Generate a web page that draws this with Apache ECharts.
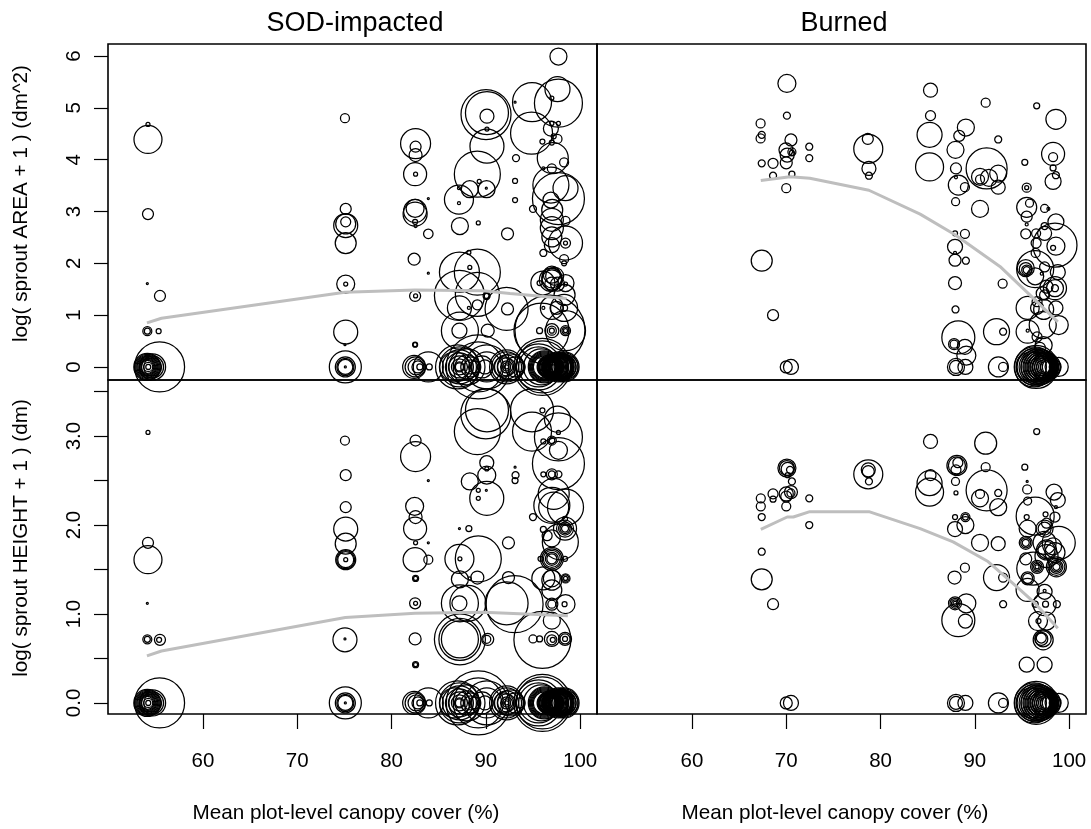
<!DOCTYPE html>
<html><head><meta charset="utf-8">
<style>html,body{margin:0;padding:0;background:#fff}#c{width:1091px;height:829px}</style>
<script src="https://cdn.jsdelivr.net/npm/echarts@6/dist/echarts.min.js"></script>
</head><body><div id="c"></div>
<script>
// rows are [canopy cover %, log response, bubble value]
const sodZero = [
[54.1,0,27],[54.1,0,25],[54.1,0,23],[54.1,0,21],[54.1,0,19],[54.1,0,17],[54.1,0,15],[54.1,0,13],[54.2,0,9],[54.2,0,5],[54.66,0,26],[54.66,0,22],[54.66,0,18],[55.4,0,50],
[75.1,0,32],[75.1,0,20],[75.1,0,17],[75.1,0,15],[75.1,0,2],
[82.4,0,23],[82.5,0,20],[82.6,0,16],[82.8,0,12],[83,0,6],[84,0,6],[83.9,0,30],
[86.7,0,30],[87,0,44],[87.2,0,40],[87.2,0,34],[87.2,0,28],[87.2,0,22],[87.2,0,16],[87.2,0,10],[87.2,0,8],[88,0,36],[88,0,24],[88.4,0,20],[88.4,0,14],[88.8,0,12],[89.2,0,64],[89.2,0,50],[89.6,0,22],[89.9,0,14],[90.1,0,44],[90.1,0,30],
[91.9,0,20],[92.2,0,34],[92.2,0,30],[92.2,0,24],[92.2,0,18],[92.2,0,12],[92.2,0,8],[92.2,0,4],[92.6,0,26],[93.1,0,20],[93.6,0,10],
[95.6,0,46],[95.6,0,40],[95.9,0,36],[96,0,57],[96,0,52],[96.2,0,32],[96.2,0,30],[96.2,0,28],[96.2,0,26],[96.2,0,24],[96.2,0,22],[96.5,0,20],[96.5,0,18],[96.5,0,16],
[96.8,0,24],[96.8,0,22],[96.8,0,20],[96.8,0,18],[96.8,0,16],[96.8,0,14],[97.1,0,22],[97.1,0,20],[97.1,0,18],[97.1,0,16],[97.1,0,14],[97.1,0,12],
[97.4,0,26],[97.4,0,24],[97.4,0,22],[97.4,0,20],[97.4,0,18],[97.4,0,16],[97.4,0,14],[97.7,0,30],[97.7,0,28],[97.7,0,26],[97.7,0,24],[97.7,0,20],[97.7,0,18],
[98,0,26],[98,0,24],[98,0,22],[98,0,20],[98.3,0,30],[98.3,0,28],[98.3,0,24],[98.5,0,24],[98.5,0,20]
];
const sodArea = [
[54.17,4.39,28],[54.17,4.68,4],[54.17,2.95,11],[54.1,1.61,2],[55.44,1.37,11],[54.1,0.69,9],[54.1,0.69,6],[55.3,0.69,5],
[75.06,4.8,9],[75.14,3.05,11],[75.14,2.8,10],[75.14,2.73,24],[75.14,2.76,20],[75.14,2.39,21],[75.14,1.6,18],[75.14,1.6,4],[75.14,0.675,24],[75.06,0.43,2],
[82.55,4.31,30],[82.55,4.25,11],[82.55,4.09,13],[82.5,3.72,23],[82.55,3.72,4],[82.5,3.01,23],[82.5,3.06,18],[82.5,2.95,24],[82.5,2.8,5],[82.55,2.72,3],
[83.9,2.57,9.5],[83.9,3.25,2],[83.9,1.81,2],[82.4,2.08,12],[82.5,1.37,11],[82.55,1.37,4],[82.5,0.43,5],[82.5,0.43,4],
[87.15,3.23,29],[87.15,3.16,3],[89.1,3.72,46],[88.3,3.43,17],[90.08,3.43,17],[90.05,3.45,2],[89.3,3.58,4],[87.15,3.45,3],[87.25,2.72,17],[89.2,2.78,4],
[90.02,4.87,50],[90.12,4.9,43],[90.12,4.84,14],[90.12,4.59,4],[90.12,4.26,34],[88.2,2.21,4],[88.3,1.92,4],[87.2,1.83,40],[89.1,1.83,46],[87.2,1.38,50],[89.1,1.4,44],[89.1,1.2,10],[90.08,1.37,7],[90.08,1.37,5],
[87.2,1.14,24],[88.2,1.14,3],[87.25,0.7,37],[87.2,0.7,15],[90.2,0.7,13],[92.2,1.12,43],[92.3,1.12,12],[92.3,2.57,12],[93.2,4.03,7],[93.1,5.11,2],[93.1,3.59,5],[93.1,3.22,5],
[94.9,5.11,39],[94.85,4.51,42],[97.7,5.99,17],[97.6,5.36,25],[97.7,5.09,48],[97,5.19,4],[97,4.7,4],[97.7,4.7,4],[96.9,4.6,15],[96,4.35,5],[97,4.33,5],[97.6,4.4,9],[97.2,4.45,5],
[97.1,4.03,31],[97,3.83,9],[98.3,3.95,9],[96.1,3.83,3],[96.9,3.51,36],[97.7,3.25,52],[98.45,3.45,25],[95,3.05,7],[96.9,3.22,16],[97.04,3.03,21],[97,2.84,23],[97,2.68,23],[98.45,2.82,9],
[98.45,2.39,34],[98.45,2.39,10],[98.45,2.39,4],[97,2.51,20],[97,2.35,15],[96.1,2.2,7],[98.3,2.08,9],[98.3,2,5],
[97,1.78,17],[97,1.72,20],[96.9,1.68,23],[96.05,1.62,24],[95.7,1.62,5],[97,1.68,20],[97,1.6,14],[97.3,1.75,18],[98.45,1.62,17],[98.45,1.6,4],[98.35,1.39,21],[98.3,1.14,27],[97,1.14,23],[96.1,1.14,3],[97.5,1.14,13],[98.3,1.14,7],[97.6,1.6,14],
[96.8,0.71,70],[95.9,0.7,55],[98.45,0.7,40],[98.45,0.7,10],[98.45,0.7,7],[98.45,0.7,4],[97,0.7,14],[97,0.7,9],[97,0.7,5],[95.7,0.7,6]
];
const sodHeight = [
[54.17,3.04,4],[54.17,1.8,11],[54.17,1.61,28],[54.1,1.12,2],[54.1,0.715,9],[54.1,0.715,6],[55.44,0.71,11],[55.35,0.71,5],
[75.06,2.95,9],[75.14,2.56,11],[75.14,2.2,11],[75.14,1.955,24],[75.14,1.79,21],[75.14,1.61,20],[75.14,1.61,18],[75.14,1.61,16],[75.14,1.61,4],[75.06,0.71,24],[75.06,0.72,2],
[82.55,2.95,11],[82.55,2.77,30],[82.45,2.21,18],[82.55,2.09,13],[82.5,1.96,23],[82.55,1.8,4],[82.5,1.61,24],[82.55,1.4,6],[82.55,1.4,4],[82.5,1.12,11],[82.55,1.12,4],[82.5,0.72,12],[82.55,0.43,6],[82.55,0.43,4],
[83.9,2.5,2],[83.9,1.8,2],[83.9,1.61,9],
[89.1,3.05,46],[90,3.25,50],[90.12,3.29,43],[94.9,3.29,43],[94.9,3.05,39],[96,3.29,5],[97.6,3.19,26],[97.7,2.99,48],[97.7,3.04,4],[97,2.95,9],[97,2.95,6],[96.1,2.94,5],[97.7,2.84,18],[97.7,2.69,52],
[90.1,2.7,14],[90.1,2.56,18],[90.1,2.63,4],[88.3,2.49,17],[90.1,2.3,34],[89.2,2.39,4],[89.2,2.3,4],[90.05,2.39,2],[93.1,2.65,2],[93.15,2.56,7],[93.1,2.5,6],
[87.2,1.96,2],[88.2,1.96,6],[92.4,1.8,12],[89.2,1.62,46],[87.2,1.62,29],[87.25,1.62,4],[87.25,1.39,17],[89.1,1.41,13],[88.3,1.4,3],[92.4,1.41,12],
[92.2,1.12,43],[93.05,1.11,57],[87.25,1.12,37],[88.1,1.12,36],[87.2,1.12,15],[87.25,0.715,51],[87.25,0.715,42],[87.25,0.715,37],[90.2,0.715,12],[90.1,0.715,8],
[96,0.71,57],[95,0.72,8],[95.7,0.72,6],[97,0.72,15],[97,0.71,10],[97.1,0.71,5],[98.4,0.72,13],[98.4,0.72,10],[98.4,0.72,5],[98.45,1.11,19],[98.35,1.11,5],[97,1.11,12],[97,1.11,8],[97,0.925,17],
[96.1,1.4,23],[97,1.4,17],[97,1.38,20],[98.45,1.4,9],[98.45,1.4,7],[98.45,1.4,4],[97,1.27,20],[95,2.09,7],[97,2.22,36],[98.45,2.2,36],[97.2,2.2,30],[97.2,2.35,31],
[98.4,1.96,23],[98.4,1.96,17],[98.4,1.96,13],[98.4,1.96,10],[98.4,1.96,7],[98.4,2.07,5],[97.9,1.81,36],[96.1,1.95,6],[96.5,1.88,10],[97,1.85,17],
[97,1.62,23],[97,1.62,20],[97,1.62,17],[97,1.62,13],[97,1.62,10],[95.8,1.62,5],[98.4,1.62,5],[97,2.57,11],[97,2.57,7],[96.1,2.57,5],[97.7,2.57,7]
];
const burnedZero = [
[70,0,12],[70.5,0,15],[88,0,17],[88,0,13],[89,0,15],[92.5,0,20],[93,0,9],
[96,0,30],[96.3,0,40],[96.3,0,36],[96.5,0,43],[96.5,0,38],[96.5,0,34],[96.5,0,30],[96.8,0,36],[96.8,0,32],[96.8,0,28],[96.8,0,24],[97,0,34],[97,0,30],[97,0,26],[97,0,22],[97,0,18],
[97.3,0,30],[97.3,0,26],[97.3,0,22],[97.3,0,18],[97.3,0,14],[97.6,0,28],[97.6,0,24],[97.6,0,20],[97.6,0,16],[97.6,0,12],[98,0,20],[98,0,16],[98.3,0,16],[98.9,0,19]
];
const burnedArea = [
[70.07,5.47,18],[70.07,4.85,7],[67.28,4.7,9],[67.4,4.48,7],[67.28,4.41,9],[70.5,4.38,12],[72.44,4.25,7],[72.44,4.03,7],[69.97,4.19,14],[70.1,4.09,14],[70,3.94,12],[70.6,4.15,8],[70.6,4.13,5],
[67.4,3.93,7],[68.6,3.93,10],[68.6,3.69,7],[70.6,3.72,6],[70,3.45,9],[78.7,4.21,29],[78.65,4.4,11],[78.77,3.83,14],[78.77,3.69,7],[67.4,2.05,21],[68.6,1,11],
[85.3,5.34,14],[85.3,4.85,10],[85.2,4.48,25],[85.2,3.86,28],[91.15,5.1,9],[96.56,5.04,6],[98.6,4.78,20],[89.05,4.62,17],[88.35,4.46,11],[87.95,4.19,17],[92.48,4.39,7],[98.3,4.11,23],[98.3,4.05,9],
[88,3.83,11],[88.25,3.51,20],[88.95,3.47,9],[87.96,3.19,8],[88,3.66,3],[91.25,3.83,41],[90.55,3.67,17],[90.55,3.62,9],[92.48,3.73,17],[92.48,3.47,14],[91.5,3.65,17],[90.55,3.05,17],
[95.3,3.95,6],[95.5,3.46,9],[95.5,3.46,4],[98.3,3.84,6],[98.6,3.7,7],[98.3,3.58,16],[95.5,3.08,20],[95.8,3.16,8],[95.5,2.9,11],[95.5,2.75,3],[97.4,3.06,8],[97.8,3.05,3],[98.6,2.8,16],[97.4,2.72,7],
[87.9,2.58,5],[88.95,2.57,9],[87.9,2.32,15],[87.9,2.06,12],[87.9,2.2,3],[89.05,2.05,7],[87.9,1.62,13],[92.95,1.61,9],[87.95,1.11,7],[88.25,0.57,33],[87.8,0.44,11],[87.8,0.44,8],[88.95,0.39,15],[89.1,0.22,19],[92.3,0.68,26],[93,0.68,7],
[98.5,2.35,44],[98.3,2.3,5],[98.6,2.33,18],[97.4,2.58,14],[96.5,2.58,9],[95.4,2.57,10],[96.5,2.39,10],[96.45,2.2,9],[96.4,1.89,37],[95.4,1.91,17],[95.4,1.89,13],[95.5,1.87,10],[95.5,1.87,7],[96.4,1.75,17],[97.4,1.93,10],[97.1,1.8,3],
[98.8,1.83,15],[98.5,1.52,23],[98.5,1.52,17],[98.5,1.52,7],[97.6,1.55,13],[97.4,1.39,10],[97.2,1.42,13],[96.6,1.26,10],[95.6,1.14,23],[98.6,1.14,14],[96.6,1.14,13],[97.3,1.11,20],
[95.6,0.68,23],[95.6,0.7,3],[97.2,0.81,27],[98.9,0.81,19],[96.6,0.58,10],[97.3,0.42,17],[96.9,0.37,11]
];
const burnedHeight = [
[70.07,2.64,18],[70.07,2.64,15],[70.15,2.63,13],[70.4,2.62,7],[70.15,2.56,5],[70.6,2.49,7],[70.5,2.37,13],[70,2.35,14],[68.6,2.35,10],[68.6,2.29,6],[70,2.21,9],[70,2.32,11],[70.5,2.36,8],[67.3,2.3,9],[67.3,2.21,9],[67.4,2.09,7],[72.44,2.3,7],[72.44,2,7],
[78.7,2.57,29],[78.7,2.62,14],[78.7,2.6,12],[78.77,2.49,7],[67.4,1.7,7],[67.4,1.39,21],[68.6,1.11,11],
[85.3,2.94,14],[85.3,2.56,11],[85.2,2.47,25],[85.2,2.37,28],[91.15,2.92,22],[96.56,3.05,6],[88.1,2.67,20],[88.1,2.67,17],[88.2,2.7,10],[88,2.62,10],[87.95,2.49,8],[91.15,2.65,9],[95.3,2.65,6],[95.55,2.49,2],[95.55,2.4,9],
[91.25,2.39,41],[90.55,2.35,9],[90.55,2.3,17],[92.48,2.36,7],[92.48,2.2,17],[88,2.36,4],[98.4,2.37,16],[98.8,2.28,15],[95.6,2.27,8],[98.6,2.2,3],[97.5,2.12,5],[96.4,2.1,38],
[87.9,2.09,5],[89,2.09,9],[89,2.09,6],[87.9,1.955,15],[89,2,17],[95.6,1.96,17],[98.5,2.09,10],[95.5,2.09,5],[97.4,1.96,17],[97.4,1.96,13],[97.6,2.02,10],
[98.9,1.8,33],[95.4,1.8,13],[95.4,1.8,10],[95.4,1.8,7],[97.6,1.72,20],[97.6,1.72,17],[98.3,1.76,17],[98.5,1.69,20],[97.4,1.8,23],[97.6,1.65,23],[90.55,1.8,17],[92.48,1.79,14],
[88.95,1.52,9],[87.85,1.41,13],[92.3,1.41,26],[93,1.41,9],[95.4,1.62,12],[96.2,1.51,33],[98.65,1.53,20],[98.65,1.53,17],[98.65,1.53,13],[98.65,1.53,10],[98.65,1.53,7],[96.6,1.53,13],[96.6,1.53,10],[96.6,1.53,7],[96.6,1.53,4],
[95.6,1.4,13],[95.6,1.4,10],[95.6,1.27,23],[97.4,1.25,15],[97.4,1.26,3],[97.5,1.11,6],[98.7,1.11,7],[96.4,1.11,6],[97.4,1.11,23],[93,1.11,7],[89.1,1.12,19],[87.9,1.12,13],[87.9,1.12,10],[87.9,1.12,7],[87.9,1.12,4],
[88.25,0.93,33],[89,0.92,14],[96.7,0.92,19],[97.6,0.92,18],[96.75,0.92,5],[97.25,0.71,20],[97.25,0.72,16],[97.05,0.72,13],[97.05,0.73,10],[95.5,0.43,15],[97.4,0.43,15]
];
const sodAreaTrend = [[54.06,0.85],[55.6,0.94],[75.06,1.44],[82.5,1.486],[89.7,1.47],[92.56,1.42],[98.56,1.32]];
const burnedAreaTrend = [[67.3,3.6],[70.4,3.67],[72.5,3.64],[78.77,3.41],[84.2,2.95],[87.9,2.55],[92.66,1.94],[95.5,1.45],[98.8,0.87]];
const sodHeightTrend = [[54.06,0.53],[55.6,0.584],[75.1,0.96],[82.5,1.008],[89.7,1.02],[98.7,0.98]];
const burnedHeightTrend = [[67.3,1.95],[70.1,2.09],[70.75,2.09],[72.5,2.15],[78.77,2.15],[84.2,1.96],[87.7,1.81],[91.4,1.59],[94.4,1.31],[96.2,1.14],[98.8,0.84]];
const xTicks = [60,70,80,90,100];
const areaTicks = [0,1,2,3,4,5,6];
const heightTicks = [0,0.5,1,1.5,2,2.5,3,3.5];
const heightLabels = [0,1,2,3];
const panelTitles = ['SOD-impacted','Burned'];
const xName = 'Mean plot-level canopy cover (%)';
const yNames = ['log( sprout AREA + 1 ) (dm^2)','log( sprout HEIGHT + 1 ) (dm)'];

const FONT = '"Liberation Sans", Arial, sans-serif';
const L=108,W=489,T=[44,380],H=[336,334];
const xr=[49.93,101.79], yr=[[-0.251,6.232],[-0.124,3.63]];
const panels=[
 {col:0,row:0,pts:sodArea.concat(sodZero),trend:sodAreaTrend},
 {col:1,row:0,pts:burnedArea.concat(burnedZero),trend:burnedAreaTrend},
 {col:0,row:1,pts:sodHeight.concat(sodZero),trend:sodHeightTrend},
 {col:1,row:1,pts:burnedHeight.concat(burnedZero),trend:burnedHeightTrend}
];
const line={show:false,onZero:false};
const grid=[],xAxis=[],yAxis=[],series=[];
panels.forEach((p,i)=>{
 grid.push({left:L+p.col*W,top:T[p.row],width:W,height:H[p.row],show:true,borderColor:'#000',borderWidth:1.6,backgroundColor:'transparent'});
 const bottom=p.row===1,left=p.col===0;
 xAxis.push({type:'value',gridIndex:i,min:xr[0],max:xr[1],splitLine:line,axisLine:line,
  axisTick:{show:bottom,length:15,lineStyle:{color:'#000',width:1.2},customValues:xTicks},
  axisLabel:{show:bottom,margin:37,fontFamily:FONT,fontSize:20.5,color:'#000',customValues:xTicks,formatter:v=>String(v)}});
 yAxis.push({type:'value',gridIndex:i,min:yr[p.row][0],max:yr[p.row][1],splitLine:line,axisLine:line,
  axisTick:{show:left,length:14,lineStyle:{color:'#000',width:1.2},customValues:p.row?heightTicks:areaTicks},
  axisLabel:{show:left,rotate:90,margin:34,fontFamily:FONT,fontSize:20.5,color:'#000',align:'center',verticalAlign:'middle',
   customValues:p.row?heightLabels:areaTicks,formatter:v=>p.row?v.toFixed(1):String(v)}});
 series.push({type:'scatter',xAxisIndex:i,yAxisIndex:i,data:p.pts,clip:true,silent:true,animation:false,
  symbol:'circle',symbolSize:v=>v[2],itemStyle:{color:'transparent',borderColor:'#000',borderWidth:1.25,opacity:1},z:2});
 series.push({type:'line',xAxisIndex:i,yAxisIndex:i,data:p.trend,smooth:false,showSymbol:false,silent:true,animation:false,
  lineStyle:{color:'#bebebe',width:3},z:3});
});
const txt=(text,x,y,size,rot)=>({type:'text',x,y,rotation:rot||0,silent:true,style:{text,fill:'#000',font:size+'px '+FONT,textAlign:'center',textVerticalAlign:'middle'}});
const graphic=[
 txt(panelTitles[0],355,24,27),txt(panelTitles[1],844,24,27),
 txt(xName,346,813,20.7),txt(xName,835,813,20.7),
 txt(yNames[0],21,203.5,20.7,Math.PI/2),txt(yNames[1],21,538,20.7,Math.PI/2)
];
const chart=echarts.init(document.getElementById('c'),null,{renderer:'canvas'});
chart.setOption({backgroundColor:'#fff',animation:false,graphic,grid,xAxis,yAxis,series});
</script></body></html>
